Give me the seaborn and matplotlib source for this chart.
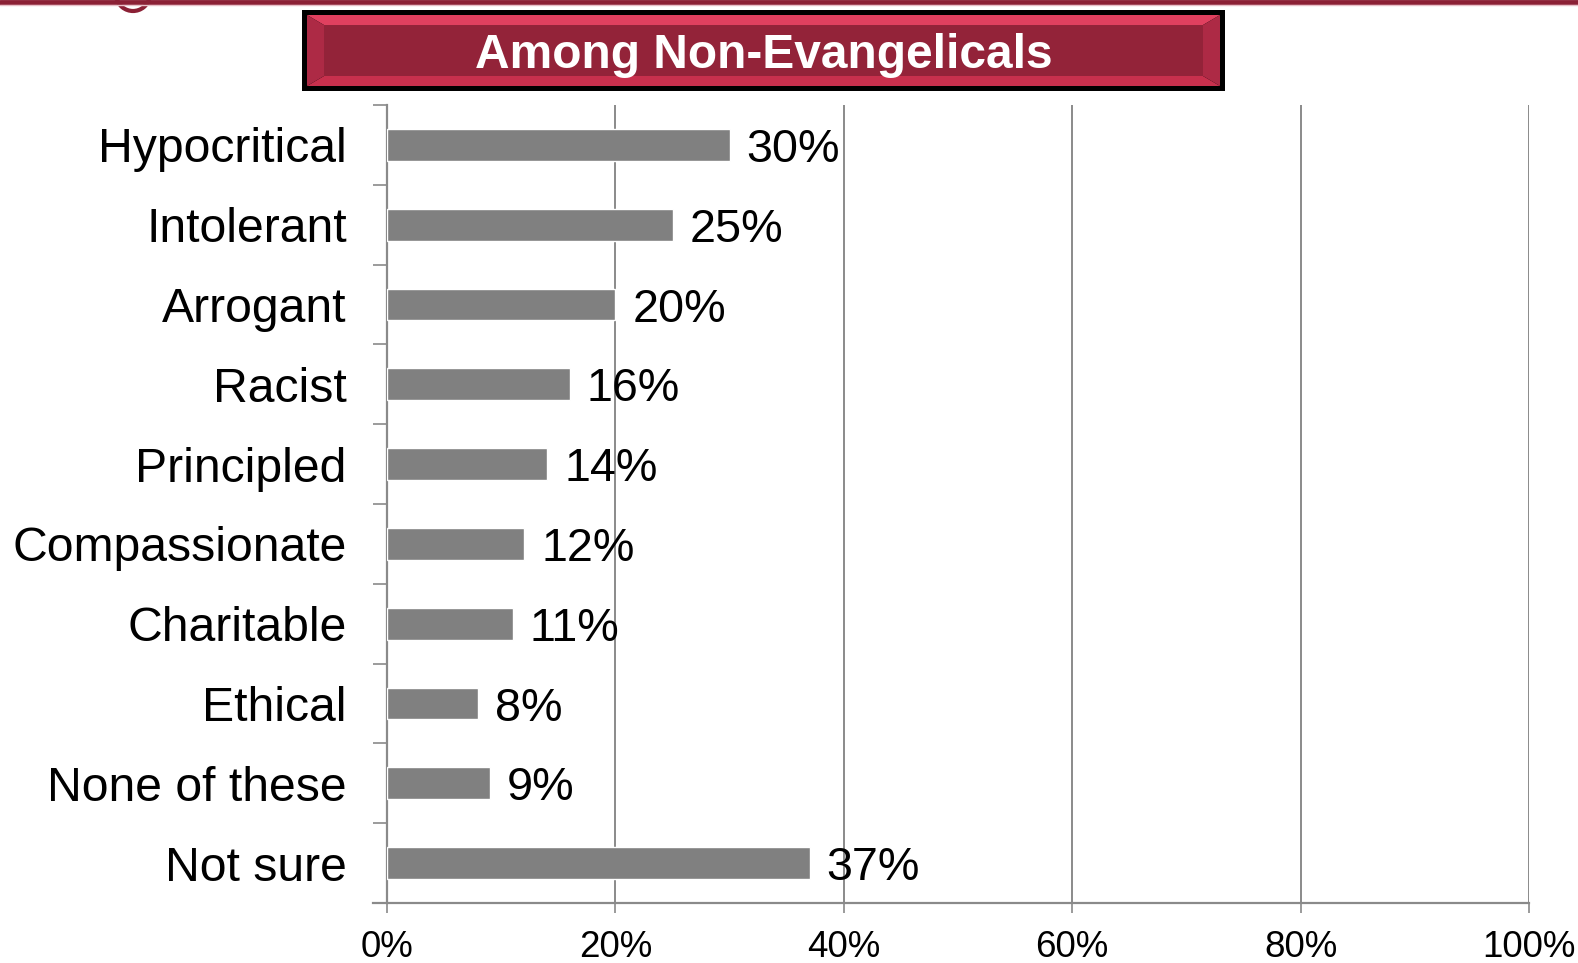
import matplotlib
matplotlib.use("Agg")
import matplotlib.pyplot as plt
from matplotlib.patches import Rectangle, Polygon, Arc
from matplotlib.ticker import FixedLocator, PercentFormatter
import numpy as np
import pandas as pd
import seaborn as sns

# Survey responses among non-evangelicals
traits = ["Hypocritical", "Intolerant", "Arrogant", "Racist", "Principled",
          "Compassionate", "Charitable", "Ethical", "None of these", "Not sure"]
shares = [30, 25, 20, 16, 14, 12, 11, 8, 9, 37]
x_ticks = [0, 20, 40, 60, 80, 100]
title = "Among Non-Evangelicals"

sns.set_theme(style="white")
plt.rcParams["font.family"] = ["Liberation Sans", "DejaVu Sans"]

W, H = 1578, 963
fig = plt.figure(figsize=(W / 100, H / 100), dpi=100)
fig.patch.set_facecolor("white")

ax = fig.add_axes([387 / W, 1 - 903 / H, (1529 - 387) / W, (903 - 105) / H])

df = pd.DataFrame({"trait": traits, "share": shares})
sns.barplot(data=df, x="share", y="trait", orient="h", color="#808080",
            saturation=1, width=0.4, ax=ax, zorder=3)

grid_c = "#8a8a8a"
ax.set_xlim(0, 100)
ax.set_ylim(len(traits) - 0.5, -0.5)
ax.set_xlabel("")
ax.set_ylabel("")

# vertical gridlines
for v in x_ticks[1:]:
    ax.axvline(v, color=grid_c, lw=1.4, zorder=1)

for s in ["top", "right"]:
    ax.spines[s].set_visible(False)
for s in ["left", "bottom"]:
    ax.spines[s].set_color(grid_c)
    ax.spines[s].set_linewidth(1.6)
ax.spines["bottom"].set_bounds(-1.2, 100)

ax.xaxis.set_major_locator(FixedLocator(x_ticks))
ax.xaxis.set_major_formatter(PercentFormatter(decimals=0))
ax.tick_params(axis="x", which="major", bottom=True, length=7.5, width=1.2,
               color=grid_c, labelsize=26.5, pad=12, labelcolor="black")

# category labels without marks, boundary ticks as minor ticks
ax.tick_params(axis="y", which="major", left=False, labelsize=34.7, pad=23,
               labelcolor="black")
ax.yaxis.set_minor_locator(FixedLocator(np.arange(-0.5, len(traits), 1.0)))
ax.tick_params(axis="y", which="minor", left=True, length=10, width=1.2,
               color=grid_c)

for i, v in enumerate(shares):
    ax.text(v + 1.5, i, f"{v}%", fontsize=33.7, color="black",
            va="center_baseline", ha="left", zorder=4)

# header rule with emblem edge
fig.add_artist(plt.Line2D([0, 1], [1 - 2 / H, 1 - 2 / H], color="#8b2035",
                          lw=3.5, transform=fig.transFigure))
fig.add_artist(plt.Line2D([0, 1], [1 - 5 / H, 1 - 5 / H], color="#e8c0c8",
                          lw=1.0, transform=fig.transFigure))
fig.add_artist(Arc((133 / W, 1 - (-6) / H), 34 / W, 34 / H, theta1=200,
                   theta2=340, color="#8b2035", lw=3,
                   transform=fig.transFigure))

# beveled title box
def fx(px):
    return px / W


def fy(py):
    return 1 - py / H


L, R, T, B = 302, 1225, 10, 91
fig.add_artist(Rectangle((fx(L), fy(B)), fx(R - L), (B - T) / H,
                         facecolor="black", edgecolor="none",
                         transform=fig.transFigure))
il, ir, it, ib = L + 5, R - 5, T + 5, B - 5
bx, by = 17, 10
cl, cr, ct, cb = il + bx, ir - bx, it + by, ib - by
faces = [
    ([(il, it), (ir, it), (cr, ct), (cl, ct)], "#e0405f"),
    ([(il, ib), (ir, ib), (cr, cb), (cl, cb)], "#c8304d"),
    ([(il, it), (cl, ct), (cl, cb), (il, ib)], "#ad2a45"),
    ([(ir, it), (cr, ct), (cr, cb), (ir, ib)], "#ad2a45"),
]
for pts, col in faces:
    fig.add_artist(Polygon([(fx(a), fy(b)) for a, b in pts], closed=True,
                           facecolor=col, edgecolor="none",
                           transform=fig.transFigure))
fig.add_artist(Rectangle((fx(cl), fy(cb)), fx(cr - cl), (cb - ct) / H,
                         facecolor="#932339", edgecolor="none",
                         transform=fig.transFigure))
fig.text(fx((L + R) / 2), fy(55), title, color="white", fontsize=34.5,
         fontweight="bold", ha="center", va="center")

fig.savefig("out.png", dpi=100, facecolor="white")
